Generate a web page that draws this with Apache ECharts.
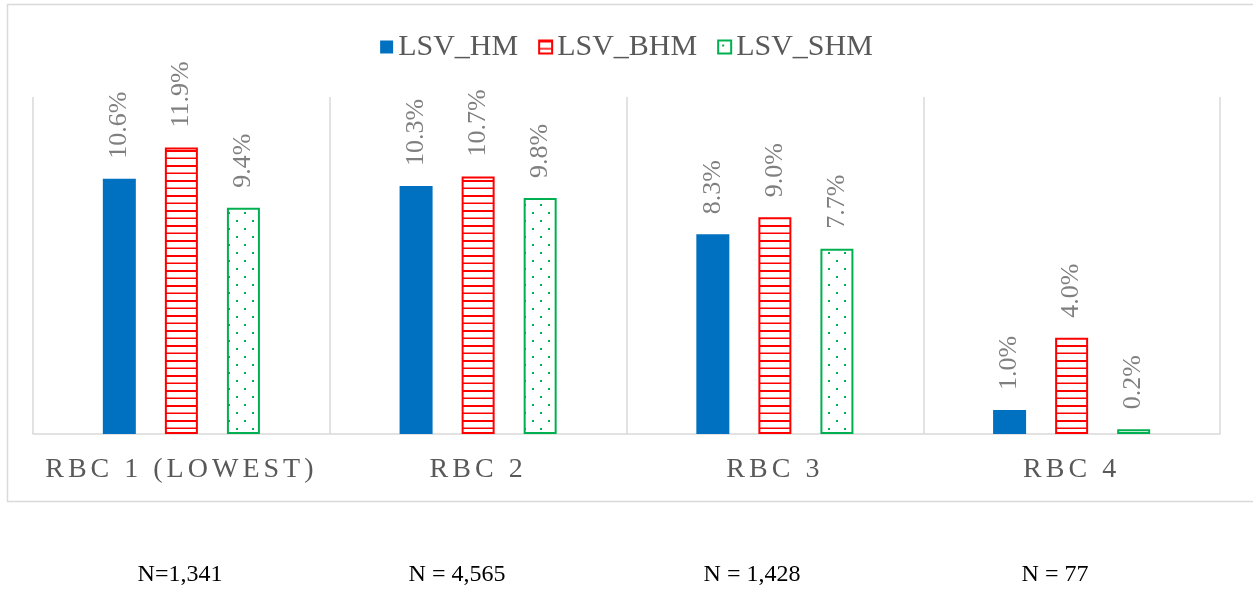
<!DOCTYPE html>
<html>
<head>
<meta charset="utf-8">
<script src="https://cdn.jsdelivr.net/npm/echarts@6/dist/echarts.min.js"></script>
<style>
  html, body { margin: 0; padding: 0; background: #fff; }
  #chart { width: 1253px; height: 595px; }
</style>
</head>
<body>
<div id="chart"></div>
<script>
const categories = ['RBC 1 (LOWEST)', 'RBC 2', 'RBC 3', 'RBC 4']
const seriesNames = ['LSV_HM', 'LSV_BHM', 'LSV_SHM']
const hmValues  = [10.6, 10.3, 8.3, 1.0]
const bhmValues = [11.9, 10.7, 9.0, 4.0]
const shmValues = [9.4, 9.8, 7.7, 0.2]
const nLabels = ['N=1,341', 'N = 4,565', 'N = 1,428', 'N = 77']
const nLabelX = [180, 457, 752, 1055]

const SERIF = 'Liberation Serif'

// excel's expanded character spacing on the category labels only
const _fillText = CanvasRenderingContext2D.prototype.fillText
CanvasRenderingContext2D.prototype.fillText = function (text) {
  const f = this.font
  this.letterSpacing = categories.includes(text) ? '4px' : '0px'
  this.font = f
  return _fillText.apply(this, arguments)
}

// hatch fills, like the excel pattern fills
function stripes() {
  const c = document.createElement('canvas')
  c.width = 4; c.height = 15
  const ctx = c.getContext('2d')
  ctx.fillStyle = '#fff'; ctx.fillRect(0, 0, 4, 15)
  ctx.fillStyle = '#ff0000'
  ctx.fillRect(0, 0, 4, 2)
  ctx.fillRect(0, 7.5, 4, 1.5)
  return c
}
function dots() {
  const c = document.createElement('canvas')
  c.width = 16; c.height = 16
  const ctx = c.getContext('2d')
  ctx.fillStyle = '#fff'; ctx.fillRect(0, 0, 16, 16)
  ctx.fillStyle = '#00b050'
  ctx.fillRect(4, 4, 2, 2)
  ctx.fillRect(12, 12, 2, 2)
  return c
}
const redFill = { image: stripes(), repeat: 'repeat' }
const greenFill = { image: dots(), repeat: 'repeat' }

const barLabel = {
  show: true, position: 'top', rotate: 90,
  align: 'left', verticalAlign: 'middle', distance: 20,
  color: '#7f7f7f', fontFamily: SERIF, fontSize: 26,
  formatter: p => p.value.toFixed(1) + '%',
}

const chart = echarts.init(document.getElementById('chart'))
chart.setOption({
  animation: false,
  backgroundColor: '#fff',
  textStyle: { fontFamily: SERIF },
  legend: {
    top: 27, left: 'center', icon: 'rect',
    itemWidth: 13, itemHeight: 13, itemGap: 20,
    textStyle: { color: '#595959', fontFamily: SERIF, fontSize: 30, padding: [0, 0, 0, 0] },
    data: seriesNames,
  },
  grid: { left: 33, right: 33, top: 97, bottom: 161 },
  xAxis: {
    type: 'category', data: categories,
    axisLine: { lineStyle: { color: '#d9d9d9', width: 1.5 } },
    axisTick: { show: false },
    splitLine: { show: true, interval: 0, lineStyle: { color: '#d9d9d9', width: 1.5 } },
    axisLabel: {
      margin: 22, interval: 0,
      color: '#595959', fontFamily: SERIF, fontSize: 28,
    },
  },
  yAxis: { type: 'value', min: 0, max: 14, show: false },
  graphic: [
    {
      type: 'rect', silent: true, z: -1,
      shape: { x: 7.5, y: 4.5, width: 1260, height: 497 },
      style: { fill: 'none', stroke: '#d9d9d9', lineWidth: 1.5 },
    },
    ...nLabels.map((t, i) => ({
      type: 'text', x: nLabelX[i], y: 575,
      style: {
        text: t, fill: '#000', font: '24px ' + SERIF,
        textAlign: 'center', textVerticalAlign: 'middle',
      },
    })),
  ],
  series: [
    {
      name: seriesNames[0], type: 'bar', data: hmValues,
      barWidth: 33, barGap: '88%',
      itemStyle: { color: '#0070c0' },
      label: barLabel,
    },
    {
      name: seriesNames[1], type: 'bar', data: bhmValues,
      barWidth: 33, barGap: '88%',
      itemStyle: { color: redFill, borderColor: '#ff0000', borderWidth: 2 },
      label: barLabel,
    },
    {
      name: seriesNames[2], type: 'bar', data: shmValues,
      barWidth: 33, barGap: '88%',
      itemStyle: { color: greenFill, borderColor: '#00b050', borderWidth: 2 },
      label: barLabel,
    },
  ],
})
</script>
</body>
</html>
